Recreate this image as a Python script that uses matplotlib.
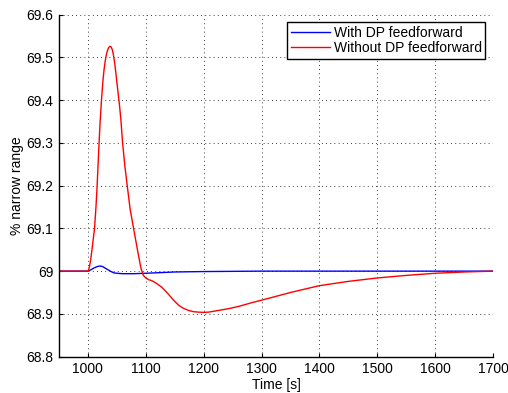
import matplotlib
matplotlib.use("Agg")
import matplotlib.pyplot as plt

plt.rcParams["font.family"] = ["Liberation Sans", "DejaVu Sans"]

# Without DP feedforward (red)
t_without = [950, 1000, 1001, 1003, 1005, 1008, 1011.5, 1014, 1016, 1019, 1021, 1023.5,
             1026, 1028, 1030, 1032, 1034, 1036, 1038, 1040, 1042, 1044, 1046, 1048, 1050,
             1054.5, 1057, 1060, 1064, 1068, 1073, 1079, 1083, 1087, 1092, 1096,
             1100, 1105, 1110, 1114, 1120, 1128, 1138, 1148, 1157, 1165, 1174, 1183,
             1192, 1200, 1208, 1217, 1230, 1246, 1262, 1280, 1300, 1325, 1350, 1375,
             1400, 1450, 1500, 1550, 1600, 1650, 1700]
y_without = [69.0, 69.0, 69.002, 69.012, 69.028, 69.06, 69.1, 69.15, 69.2, 69.29, 69.345, 69.4,
             69.445, 69.472, 69.492, 69.507, 69.517, 69.523, 69.526, 69.525, 69.519, 69.507, 69.49, 69.468, 69.443,
             69.39, 69.355, 69.3, 69.245, 69.2, 69.145, 69.1, 69.07, 69.04, 69.005, 68.99,
             68.984, 68.98, 68.978, 68.975, 68.97, 68.962, 68.948, 68.932, 68.92, 68.913, 68.908, 68.905,
             68.904, 68.9035, 68.904, 68.906, 68.909, 68.913, 68.918, 68.925, 68.932, 68.941, 68.95, 68.958,
             68.966, 68.976, 68.984, 68.99, 68.995, 68.998, 69.0]

# With DP feedforward (blue)
t_with = [950, 1000, 1005, 1010, 1015, 1020, 1025, 1030, 1035, 1040, 1045, 1050,
          1060, 1080, 1100, 1150, 1200, 1300, 1700]
y_with = [69.0, 69.0, 69.003, 69.007, 69.010, 69.012, 69.011, 69.007, 69.003, 68.999,
          68.996, 68.995, 68.994, 68.994, 68.995, 68.998, 68.999, 69.0, 69.0]

x_ticks = [1000, 1100, 1200, 1300, 1400, 1500, 1600, 1700]
y_ticks = [68.8, 68.9, 69.0, 69.1, 69.2, 69.3, 69.4, 69.5, 69.6]
y_tick_labels = ["68.8", "68.9", "69", "69.1", "69.2", "69.3", "69.4", "69.5", "69.6"]

fig = plt.figure(figsize=(5.08, 3.93), dpi=100)
ax = fig.add_axes([0.116, 0.0926, 0.8545, 0.87])

ax.plot(t_with, y_with, color="#0000ff", linewidth=1.0, label="With DP feedforward")
ax.plot(t_without, y_without, color="#ff0000", linewidth=1.0, label="Without DP feedforward")

ax.set_xlim(950, 1700)
ax.set_ylim(68.8, 69.6)
ax.set_xticks(x_ticks)
ax.set_yticks(y_ticks)
ax.set_yticklabels(y_tick_labels)
ax.tick_params(direction="in", length=3, labelsize=10, colors="black", pad=4)

ax.spines["top"].set_visible(False)
ax.spines["right"].set_visible(False)
ax.spines["left"].set_linewidth(1.0)
ax.spines["bottom"].set_linewidth(1.0)

ax.grid(True, color="black", linestyle=(0, (1, 4)), linewidth=0.6)
ax.set_axisbelow(True)

ax.set_xlabel("Time [s]", fontsize=10, labelpad=1)
ax.set_ylabel("% narrow range", fontsize=10, labelpad=2)

leg = ax.legend(loc="upper right", fontsize=10, fancybox=False, framealpha=1,
                edgecolor="black", handlelength=2.8, borderpad=0.25,
                labelspacing=0.1, handletextpad=0.3, borderaxespad=0.55)
leg.get_frame().set_linewidth(1.0)

fig.savefig("out.png", dpi=100)
